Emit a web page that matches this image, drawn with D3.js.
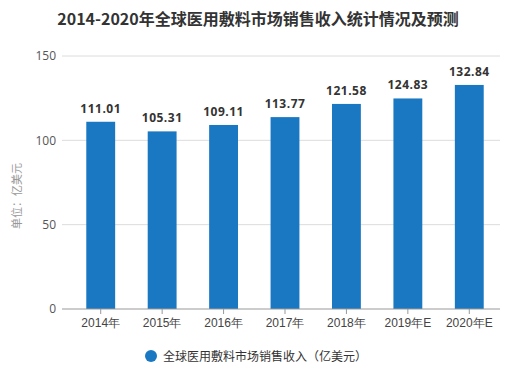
<!DOCTYPE html>
<html><head><meta charset="utf-8">
<script src="https://cdn.jsdelivr.net/npm/d3@7"></script>
<style>body{margin:0;background:#fff;}svg{display:block;font-family:"Noto Sans CJK SC","Microsoft YaHei",sans-serif;}</style>
</head><body><svg id="c" width="516" height="371"></svg>
<script>
const categories = ["2014年","2015年","2016年","2017年","2018年","2019年E","2020年E"];
const values = [111.01,105.31,109.11,113.77,121.58,124.83,132.84];
const yTicks = [0,50,100,150];
const title = "2014-2020年全球医用敷料市场销售收入统计情况及预测";
const yLabel = "单位：亿美元";
const seriesName = "全球医用敷料市场销售收入（亿美元）";
const color = "#1a78c3";

const svg = d3.select("#c");
const x = d3.scaleBand().domain(categories).range([70,500]).paddingInner(0.53).paddingOuter(0.265);
const y = d3.scaleLinear().domain([0,150]).range([309,56]);

svg.append("text").attr("x",258).attr("y",25).attr("text-anchor","middle")
  .attr("font-size",16).attr("font-weight","bold").attr("fill","#333").text(title);

// gridlines
svg.append("g").selectAll("line").data(yTicks.filter(d=>d>0)).join("line")
  .attr("x1",62).attr("x2",500).attr("y1",d=>y(d)).attr("y2",d=>y(d))
  .attr("stroke","#dcdcdc").attr("stroke-width",1);

// y axis labels
const ya = svg.append("g").attr("transform","translate(62,0)")
  .call(d3.axisLeft(y).tickValues(yTicks).tickSize(0).tickPadding(6));
ya.select(".domain").remove();
ya.selectAll("text").attr("font-size",12).attr("fill","#555").attr("font-family","'Open Sans',sans-serif");

// bars
svg.append("g").selectAll("rect").data(values).join("rect")
  .attr("x",(d,i)=>x(categories[i])).attr("width",x.bandwidth())
  .attr("y",d=>y(d)).attr("height",d=>y(0)-y(d)).attr("fill",color);

// value labels
svg.append("g").selectAll("text").data(values).join("text")
  .attr("x",(d,i)=>x(categories[i])+x.bandwidth()/2).attr("y",d=>y(d)-9)
  .attr("text-anchor","middle").attr("font-size",12).attr("font-weight","bold")
  .attr("fill","#333").attr("letter-spacing",0.5).attr("font-family","'Open Sans',sans-serif")
  .text(d=>d.toFixed(2));

// x axis
const xa = svg.append("g").attr("transform","translate(0,309)")
  .call(d3.axisBottom(x).tickSize(5).tickPadding(4).tickSizeOuter(0));
xa.select(".domain").attr("d","M62,0H500").attr("stroke","#999");
xa.selectAll(".tick line").attr("stroke","#999");
xa.selectAll("text").attr("font-size",12).attr("fill","#444");

// y label
svg.append("text").attr("transform","translate(21,196) rotate(-90)").attr("text-anchor","middle")
  .attr("font-size",11).attr("fill","#999").text(yLabel);

// legend
svg.append("circle").attr("cx",151).attr("cy",356).attr("r",6).attr("fill",color);
svg.append("text").attr("x",163).attr("y",360.5).attr("font-size",12).attr("fill","#333").text(seriesName);
</script></body></html>
